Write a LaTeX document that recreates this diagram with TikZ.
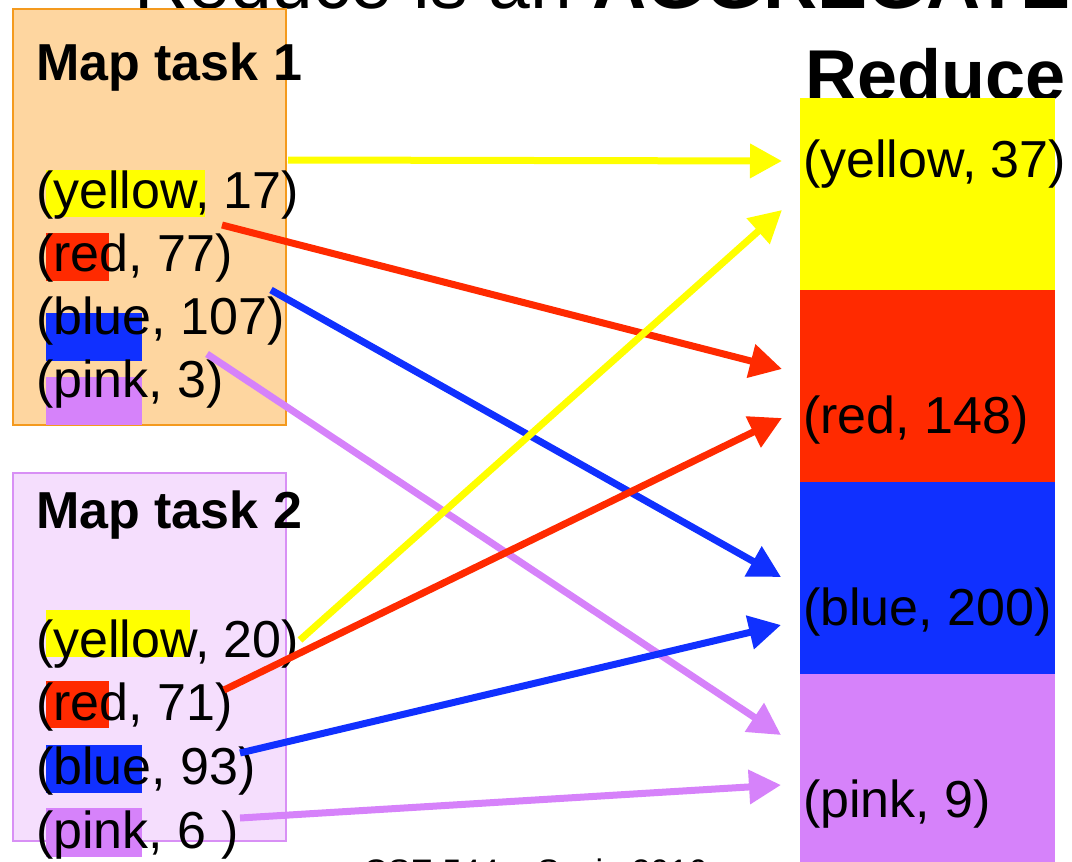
\documentclass[tikz,border=0pt]{standalone}
\usepackage{fontspec}
\setmainfont{Liberation Sans}
\usetikzlibrary{arrows.meta}
\definecolor{mapone}{HTML}{FED6A0}
\definecolor{maponeline}{HTML}{F49A1E}
\definecolor{maptwo}{HTML}{F5DEFD}
\definecolor{maptwoline}{HTML}{D890F5}
\definecolor{cyellow}{HTML}{FFFF00}
\definecolor{cred}{HTML}{FF2A00}
\definecolor{cblue}{HTML}{1030FF}
\definecolor{cpink}{HTML}{D682FA}
\begin{document}
\begin{tikzpicture}[x=1pt,y=-1pt,
  txt/.style={anchor=base west, inner sep=0pt, font=\fontsize{52}{60}\selectfont},
  hd/.style={anchor=base west, inner sep=0pt, font=\bfseries\fontsize{52}{60}\selectfont},
  big/.style={anchor=base west, inner sep=0pt, font=\fontsize{75}{80}\selectfont},
  foot/.style={anchor=base west, inner sep=0pt, font=\fontsize{34}{40}\selectfont},
  arr/.style={line width=7pt, -{Triangle[length=32pt,width=33pt]}},
  mapbox/.style={line width=1.6pt}]
\path[use as bounding box, clip] (0,0) rectangle (1072,862);
\fill[white] (0,0) rectangle (1072,862);

% title (cut off at top)
\node[big] (title) at (134,9) {Reduce is an \textbf{AGGREGATE}};

% Map task boxes
\draw[mapbox, fill=mapone, draw=maponeline] (13,9) rectangle (286,425);
\draw[mapbox, fill=maptwo, draw=maptwoline] (13,473) rectangle (286,841);

% highlights map task 1
\fill[cyellow] (46,170) rectangle (205,217);
\fill[cred] (46,233) rectangle (109,281);
\fill[cblue] (46,313) rectangle (142,361);
\fill[cpink] (46,377) rectangle (142,425);
% highlights map task 2
\fill[cyellow] (46,610) rectangle (190,657);
\fill[cred] (46,681) rectangle (109,728);
\fill[cblue] (46,745) rectangle (142,793);
\fill[cpink] (46,808) rectangle (142,857);

% texts map task 1
\node[hd] (mt1) at (36,80) {Map task 1};
\node[txt] (y17) at (36,208) {(yellow, 17)};
\node[txt] (r77) at (36,271) {(red, 77)};
\node[txt] (b107) at (36,334) {(blue, 107)};
\node[txt] (p3) at (36,397) {(pink, 3)};
% texts map task 2
\node[hd] (mt2) at (36,528) {Map task 2};
\node[txt] (y20) at (36,657) {(yellow, 20)};
\node[txt] (r71) at (36,720) {(red, 71)};
\node[txt] (b93) at (36,784) {(blue, 93)};
\node[txt] (p6) at (36,848) {(pink, 6 )};

% Reduce column
\node[big, font=\bfseries\fontsize{72}{80}\selectfont] (red) at (805,100) {Reduce};
\fill[cyellow] (800,98) rectangle (1055,290);
\fill[cred] (800,290) rectangle (1055,482);
\fill[cblue] (800,482) rectangle (1055,674);
\fill[cpink] (800,674) rectangle (1055,862);
\node[txt] (y37) at (803,177) {(yellow, 37)};
\node[txt] (r148) at (803,433) {(red, 148)};
\node[txt] (b200) at (803,625) {(blue, 200)};
\node[txt] (p9) at (803,817) {(pink, 9)};

% footer (cut off at bottom)
\node[foot] (foot) at (363,883) {CSE 544 -- Suciu 2016};

% arrow end points
\coordinate (sy1) at (288,160);  \coordinate (ey1) at (782,161);
\coordinate (sy2) at (300,640);  \coordinate (ey2) at (782,210);
\coordinate (sr1) at (222,225);  \coordinate (er1) at (782,369);
\coordinate (sr2) at (224,690);  \coordinate (er2) at (782,418);
\coordinate (sb1) at (271,290);  \coordinate (eb1) at (781,577);
\coordinate (sb2) at (240,753);  \coordinate (eb2) at (781,625);
\coordinate (sp1) at (207,354);  \coordinate (ep1) at (781,735);
\coordinate (sp2) at (240,818);  \coordinate (ep2) at (781,785);

\draw[arr, cyellow] (sy1) -- (ey1);
\draw[arr, cred] (sr1) -- (er1);
\draw[arr, cblue] (sb1) -- (eb1);
\draw[arr, cpink] (sp1) -- (ep1);
\draw[arr, cyellow] (sy2) -- (ey2);
\draw[arr, cred] (sr2) -- (er2);
\draw[arr, cblue] (sb2) -- (eb2);
\draw[arr, cpink] (sp2) -- (ep2);
\end{tikzpicture}
\end{document}
